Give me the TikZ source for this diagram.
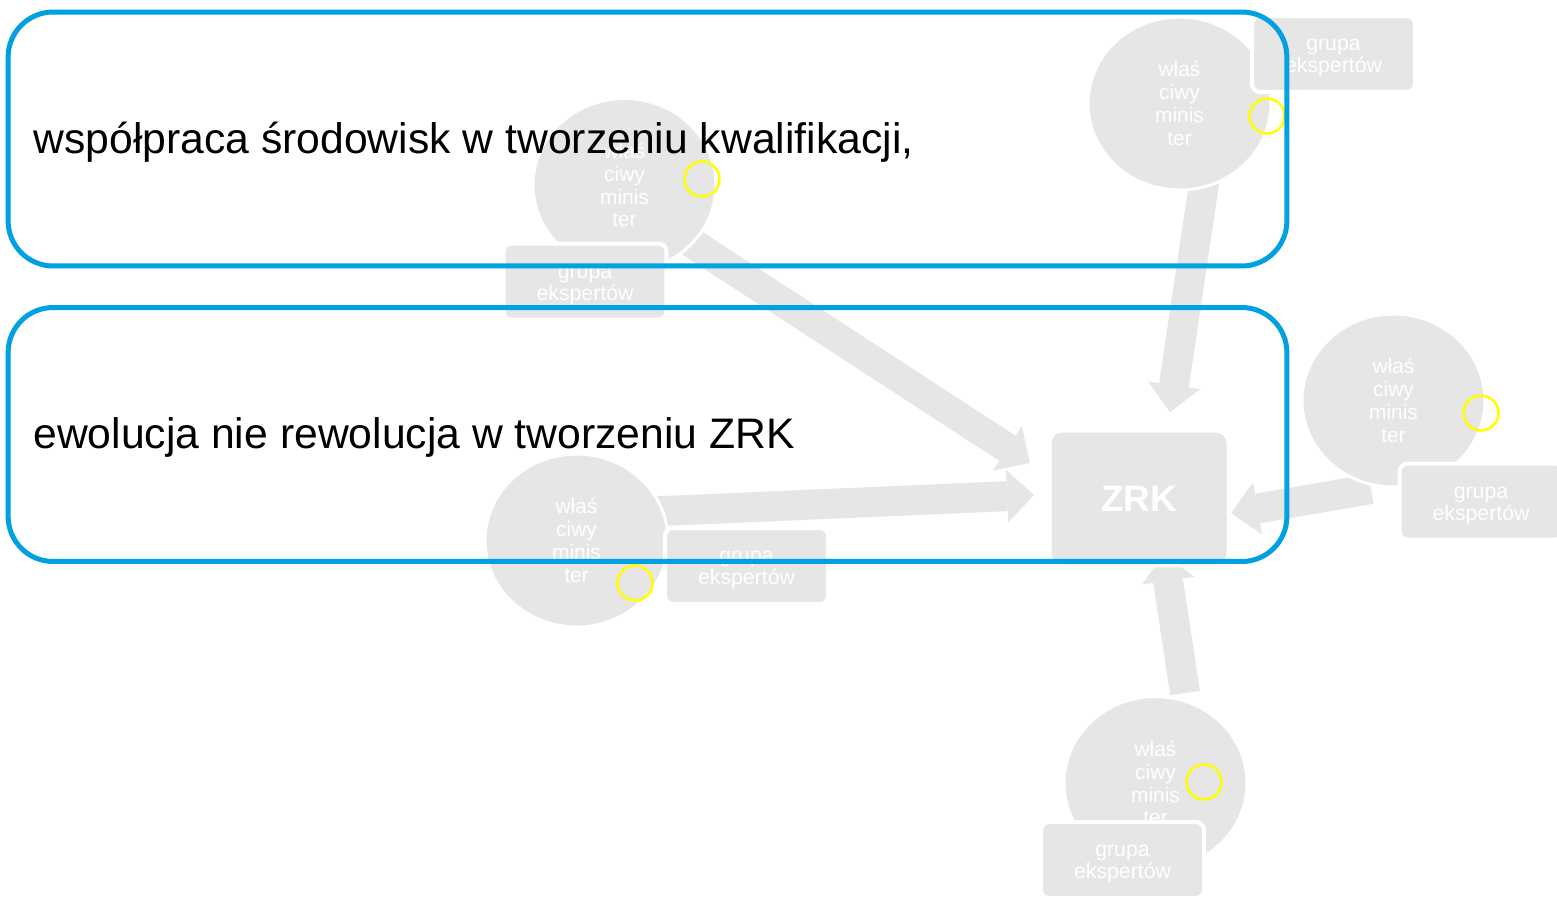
\documentclass[tikz,border=0pt]{standalone}
\usepackage{fontspec}
\setmainfont{Liberation Sans}
\usepackage{xcolor}
\usepackage{tikz}
\usetikzlibrary{calc,positioning,shapes.geometric,arrows.meta}
\definecolor{zrkgray}{HTML}{E6E6E6}
\definecolor{frameblue}{HTML}{00A0E3}
\definecolor{markyellow}{HTML}{FFFF00}

\begin{document}
\begin{tikzpicture}[x=0.02cm, y=-0.02cm,
  minister/.style={ellipse, fill=zrkgray, draw=white, line width=0.06cm, minimum width=3.66cm, minimum height=3.46cm, inner sep=0pt, text=white, align=center, font=\fontsize{11.9}{13}\selectfont},
  group/.style={rectangle, rounded corners=0.16cm, fill=zrkgray, draw=white, line width=0.08cm, text width=3.26cm, minimum height=1.52cm, inner sep=0pt, text=white, align=center, font=\fontsize{12.1}{12.5}\selectfont, execute at begin node=\rule{0pt}{0.4cm}},
  marker/.style={circle, draw=markyellow, line width=0.05cm, minimum size=0.7cm, inner sep=0pt},
  zrkbox/.style={rectangle, rounded corners=0.24cm, fill=zrkgray, draw=white, line width=0.06cm, minimum width=3.56cm, minimum height=2.7cm, text=white, font=\fontsize{21}{25}\selectfont\bfseries},
  frame/.style={rectangle, rounded corners=0.9cm, draw=frameblue, line width=0.1cm, minimum width=25.58cm, minimum height=5.08cm, inner sep=0pt},
  headline/.style={anchor=base west, inner sep=0pt, font=\fontsize{24.3}{28}\selectfont},
  blockarrow/.style={-{Triangle[width=1.06cm, length=0.54cm, line width=0pt]}, zrkgray, line width=0.6cm}
]
  \useasboundingbox (0,0) rectangle (1557,896);

  % arrow ends
  \coordinate (s1) at (669,228);    \coordinate (e1) at (1030,463);
  \coordinate (s2) at (1207.5,160); \coordinate (e2) at (1170,412);
  \coordinate (s3) at (1371,489);   \coordinate (e3) at (1231,513);
  \coordinate (s4) at (640,512);    \coordinate (e4) at (1034,495);
  \coordinate (s5) at (1185,693);   \coordinate (e5) at (1164,554);

  \draw[blockarrow] (s1) -- (e1);
  \draw[blockarrow] (s2) -- (e2);
  \draw[blockarrow] (s3) -- (e3);
  \draw[blockarrow] (s4) -- (e4);
  \draw[blockarrow] (s5) -- (e5);

  \node[minister] (c1) at (624.5,185) {właś\\ciwy\\minis\\ter};
  \node[minister] (c2) at (1179.5,103.5) {właś\\ciwy\\minis\\ter};
  \node[minister] (c3) at (1393.5,400.5) {właś\\ciwy\\minis\\ter};
  \node[minister] (c4) at (576.5,540.5) {właś\\ciwy\\minis\\ter};
  \node[minister] (c5) at (1155.5,783) {właś\\ciwy\\minis\\ter};

  \node[group] (g1) at (585,281.5) {grupa\\ekspertów};
  \node[group] (g2) at (1333.5,54) {grupa\\ekspertów};
  \node[group] (g3) at (1481,501.5) {grupa\\ekspertów};
  \node[group] (g4) at (746.5,566) {grupa\\ekspertów};
  \node[group] (g5) at (1122.5,860) {grupa\\ekspertów};

  \node[marker] (y1) at (702,179) {};
  \node[marker] (y2) at (1267,116) {};
  \node[marker] (y3) at (1481,413) {};
  \node[marker] (y4) at (635,583) {};
  \node[marker] (y5) at (1204,782) {};

  \node[zrkbox] (zrk) at (1139,498.5) {ZRK};

  \node[headline] (t1) at (33,153) {współpraca środowisk w tworzeniu kwalifikacji,};
  \node[headline] (t2) at (33,448) {ewolucja nie rewolucja w tworzeniu ZRK};

  \node[frame] (f1) at (647.5,139) {};
  \node[frame] (f2) at (647.5,434.5) {};
\end{tikzpicture}
\end{document}
